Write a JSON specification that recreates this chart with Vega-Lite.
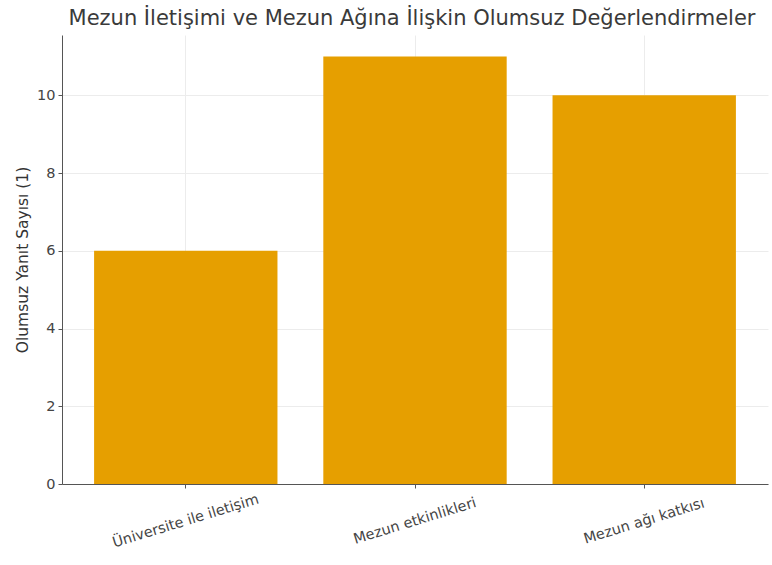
{
  "$schema": "https://vega.github.io/schema/vega-lite/v6.json",
  "autosize": "none",
  "width": 706,
  "height": 449,
  "padding": {"left": 62, "top": 35, "right": 4, "bottom": 81},
  "background": "white",
  "title": {
    "text": "Mezun İletişimi ve Mezun Ağına İlişkin Olumsuz Değerlendirmeler",
    "font": "DejaVu Sans",
    "fontSize": 21,
    "fontWeight": "normal",
    "color": "#3a3a3a",
    "anchor": "middle",
    "dx": -3,
    "offset": 6
  },
  "data": {
    "values": [
      {"kategori": "Üniversite ile iletişim", "sayi": 6},
      {"kategori": "Mezun etkinlikleri", "sayi": 11},
      {"kategori": "Mezun ağı katkısı", "sayi": 10}
    ]
  },
  "mark": {"type": "bar", "color": "#E69F00"},
  "encoding": {
    "x": {
      "field": "kategori",
      "type": "nominal",
      "sort": null,
      "scale": {"paddingInner": 0.2, "paddingOuter": 0.14},
      "axis": {
        "title": null,
        "labelAngle": -17,
        "labelAlign": "center",
        "labelBaseline": "middle",
        "labelPadding": 33,
        "labelFont": "DejaVu Sans",
        "labelFontSize": 14.5,
        "labelColor": "#444444",
        "grid": true,
        "gridColor": "#ececec",
        "domainColor": "#555555",
        "tickColor": "#555555",
        "tickSize": 4
      }
    },
    "y": {
      "field": "sayi",
      "type": "quantitative",
      "scale": {"domain": [0, 11.55], "nice": false},
      "axis": {
        "title": "Olumsuz Yanıt Sayısı (1)",
        "titleFont": "DejaVu Sans",
        "titleFontSize": 15.5,
        "titleFontWeight": "normal",
        "titleColor": "#333333",
        "titlePadding": 6,
        "values": [0, 2, 4, 6, 8, 10],
        "labelFont": "DejaVu Sans",
        "labelFontSize": 14.5,
        "labelColor": "#444444",
        "labelPadding": 3,
        "grid": true,
        "gridColor": "#ececec",
        "domainColor": "#555555",
        "tickColor": "#555555",
        "tickSize": 4
      }
    }
  },
  "config": {"view": {"stroke": null}}
}
